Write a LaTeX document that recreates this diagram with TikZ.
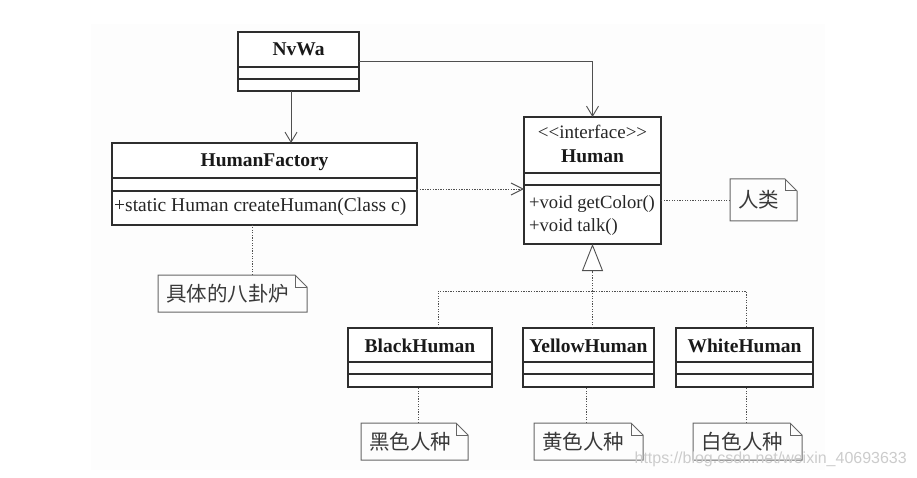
\documentclass[tikz,border=0pt]{standalone}
\usepackage{fontspec}
\setmainfont{Liberation Serif}
\newfontfamily\cjk{Noto Sans CJK SC}
\newfontfamily\wmfont{Liberation Sans}
\usetikzlibrary{calc,arrows.meta}
\definecolor{boxline}{HTML}{2E2E2E}
\definecolor{conline}{HTML}{505050}
\definecolor{noteline}{HTML}{666666}
\definecolor{notetext}{HTML}{3A3A3A}
\definecolor{wmgray}{HTML}{CCCCCC}
\tikzset{
	cls/.style={draw=boxline, line width=1.3pt, fill=white, anchor=north west, inner sep=0pt, outer sep=0pt},
	clsline/.style={draw=boxline, line width=1.3pt},
	ctitle/.style={anchor=base, inner sep=0pt, text=black!90, font=\bfseries\fontsize{19.5}{22}\selectfont},
	cstereo/.style={anchor=base, inner sep=0pt, text=black!85, font=\fontsize{19}{22}\selectfont},
	cmember/.style={anchor=base west, inner sep=0pt, text=black!85, font=\fontsize{19.5}{22}\selectfont},
	note/.style={anchor=north west, inner xsep=8pt, inner ysep=0pt, outer sep=0pt, minimum height=37pt, align=left, text=notetext, font=\cjk\fontsize{20.5}{24}\selectfont},
	notebox/.style={draw=noteline, line width=1pt},
	assoc/.style={draw=conline, line width=0.9pt, -{Straight Barb[length=10pt,width=12pt]}},
	depend/.style={draw=conline, line width=0.9pt, dash pattern=on 1.3pt off 1.3pt, -{Straight Barb[length=12pt,width=12pt]}},
	realize/.style={draw=conline, line width=0.9pt, dash pattern=on 1.3pt off 1.3pt},
	attach/.style={draw=conline, line width=0.9pt, dash pattern=on 1.3pt off 1.3pt},
}
\def\umlclass(#1)(#2,#3)(#4:#5:#6:#7){%
	\node[cls, minimum width=#4, minimum height=#5] (#1) at (#2,#3) {};
	\draw[clsline] ($(#1.north west)+(0,#6)$) -- ($(#1.north east)+(0,#6)$);
	\draw[clsline] ($(#1.north west)+(0,#7)$) -- ($(#1.north east)+(0,#7)$);}
\def\dogear(#1){%
	\draw[notebox] (#1.north west) -- ($(#1.north east)+(-12,0)$) -- ($(#1.north east)+(0,12)$) -- (#1.south east) -- (#1.south west) -- cycle;
	\draw[notebox] ($(#1.north east)+(-12,0)$) -- ($(#1.north east)+(-12,12)$) -- ($(#1.north east)+(0,12)$);}

\begin{document}
\begin{tikzpicture}[x=1pt,y=-1pt]
			%%%%% START %%%%%
			
			\useasboundingbox[fill=white] (0,0) rectangle (917,478);
			\fill[black!0.7] (91,24) rectangle (825,470);
			
			\umlclass(nvwa)(238,32)(121:59:35:47)
			\node[ctitle] (nvwa-t) at ($(nvwa.north)+(0,24)$) {NvWa};
			
			\umlclass(factory)(112,143)(305:82:35:48)
			\node[ctitle] (factory-t) at ($(factory.north)+(0,24)$) {HumanFactory};
			\node[cmember] (factory-m) at ($(factory.north west)+(2,69)$) {+static Human createHuman(Class c)};
			
			\umlclass(human)(524,117)(137:127:56:68)
			\node[cstereo] (human-s) at ($(human.north)+(0,22)$) {<{}<interface>{}>};
			\node[ctitle] (human-t) at ($(human.north)+(0,46)$) {Human};
			\node[cmember, font=\fontsize{18.6}{22}\selectfont] (human-m1) at ($(human.north west)+(5,92)$) {+void getColor()};
			\node[cmember, font=\fontsize{18.6}{22}\selectfont] (human-m2) at ($(human.north west)+(5,115)$) {+void talk()};
			
			\umlclass(black)(348,328)(144:59:34:46)
			\node[ctitle] (black-t) at ($(black.north)+(0,24)$) {BlackHuman};
			\umlclass(yellow)(523,328)(131:59:34:46)
			\node[ctitle] (yellow-t) at ($(yellow.north)+(0,24)$) {YellowHuman};
			\umlclass(white)(676,328)(137:59:34:46)
			\node[ctitle] (white-t) at ($(white.north)+(0,24)$) {WhiteHuman};
			
			% notes
			\node[note, text width=133pt] (factory-n) at (158,275) {具体的八卦炉};
			\node[note, text width=51pt, minimum height=42pt] (human-n) at (730,179) {人类};
			\node[note, text width=91pt] (black-n) at (361,423) {黑色人种};
			\node[note, text width=93pt] (yellow-n) at (534,423) {黄色人种};
			\node[note, text width=93pt] (white-n) at (693,423) {白色人种};
			\foreach \n in {factory-n,human-n,black-n,yellow-n,white-n}
				\dogear(\n);
			
			% associations
			\coordinate (nvwa-out) at ($(nvwa.south)+(-7.5,0)$);
			\draw[assoc] (nvwa-out) -- (nvwa-out |- factory.north);
			\draw[assoc] (nvwa.east) -| (human.north);
			
			\coordinate (factory-out) at ($(factory.east)+(0,5)$);
			\draw[depend] (factory-out) -- (factory-out -| human.west);
			
			% realization
			\coordinate (black-up) at ($(black.north)+(18,0)$);
			\coordinate (yellow-up) at ($(yellow.north)+(4,0)$);
			\coordinate (white-up) at ($(white.north)+(1.5,0)$);
			\draw[realize] (black-up) -- ++(0,-37) -| (white-up);
			\draw[realize, -{Triangle[length=27pt,width=21pt,fill=white]}] (yellow-up) -- (human.south);
			
			% note links
			\coordinate (factory-in) at ($(factory-n.north)+(19.5,0)$);
			\draw[attach] (factory-in) -- (factory-in |- factory.south);
			\draw[attach] (human-n.west) -- (human-n.west -| human.east);
			\coordinate (black-in) at ($(black-n.north)+(3.5,0)$);
			\draw[attach] (black-in) -- (black-in |- black.south);
			\coordinate (yellow-in) at ($(yellow-n.north)+(-2.5,0)$);
			\draw[attach] (yellow-in) -- (yellow-in |- yellow.south);
			\coordinate (white-in) at ($(white-n.north)+(-1.5,0)$);
			\draw[attach] (white-in) -- (white-in |- white.south);
			
			\node[anchor=base east, inner sep=0pt, text=wmgray, font=\wmfont\fontsize{16}{18}\selectfont] (wm) at (907,463) {https://blog.csdn.net/weixin\_40693633};
			
			%%%%% END %%%%%
\end{tikzpicture}
\end{document}
